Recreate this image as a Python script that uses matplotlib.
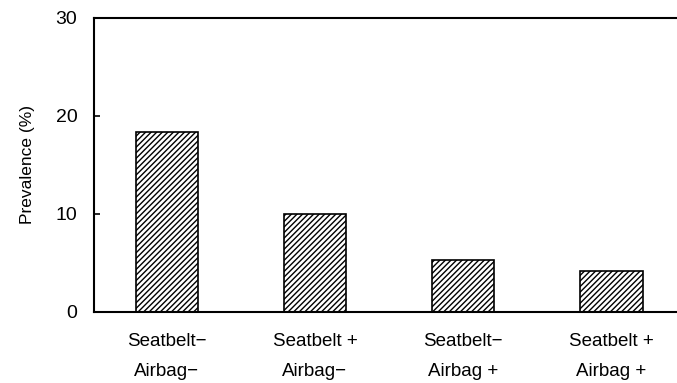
import matplotlib
matplotlib.use("Agg")
import matplotlib.pyplot as plt

plt.rcParams['font.family'] = ['Liberation Sans', 'DejaVu Sans']
plt.rcParams['hatch.linewidth'] = 1.0

categories = ["Seatbelt\u2212\nAirbag\u2212", "Seatbelt +\nAirbag\u2212",
              "Seatbelt\u2212\nAirbag +", "Seatbelt +\nAirbag +"]
prevalence = [18.4, 10.0, 5.3, 4.2]
yticks = [0, 10, 20, 30]

W, H = 677, 383
fig = plt.figure(figsize=(W / 100, H / 100), dpi=100)
left, right, top, bottom = 94, 690, 18, 312
ax = fig.add_axes([left / W, 1 - bottom / H, (right - left) / W, (bottom - top) / H])

x = list(range(len(categories)))
ax.bar(x, prevalence, width=0.42, color='white', edgecolor='black',
       linewidth=1.2, hatch='//////')

ax.set_xlim(-0.49, 3.53)
ax.set_ylim(0, 30)
ax.set_yticks(yticks)
ax.set_yticklabels([str(v) for v in yticks], fontsize=14)
ax.tick_params(axis='y', direction='in', length=4, width=1.2, pad=12)
ax.set_xticks(x)
ax.set_xticklabels(categories, fontsize=13.5, linespacing=2.05)
ax.tick_params(axis='x', length=0, pad=15)

for side in ['left', 'bottom', 'top']:
    ax.spines[side].set_linewidth(1.5)
ax.spines['right'].set_visible(False)

ax.set_ylabel("Prevalence (%)", fontsize=12.5, labelpad=15)

fig.savefig("out.png", dpi=100)
